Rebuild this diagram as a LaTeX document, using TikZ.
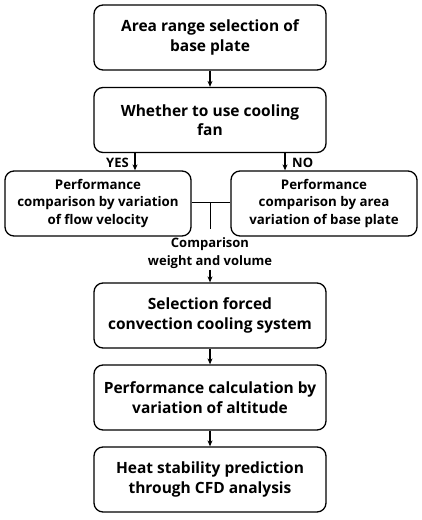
\documentclass[tikz,border=0pt]{standalone}
\usepackage{fontspec}
\setmainfont{Open Sans}
\usetikzlibrary{arrows.meta}
\begin{document}
\begin{tikzpicture}[x=1pt,y=-1pt,
  bigbox/.style={draw, line width=1.3pt, rounded corners=9pt, minimum width=232pt, minimum height=65pt, align=center, font=\bfseries\fontsize{15.5}{19.5}\selectfont, inner sep=0pt},
  sidebox/.style={draw, line width=1.3pt, rounded corners=9pt, minimum width=186pt, minimum height=65pt, align=center, font=\bfseries\fontsize{13.3}{17.5}\selectfont, inner sep=0pt},
  arr/.style={-{Stealth[length=6pt,width=5pt]}, line width=1.2pt},
  lbl/.style={font=\bfseries\fontsize{13}{18}\selectfont, inner sep=0pt, align=center}]
\useasboundingbox (0,0) rectangle (421,520);
\node[bigbox] (b1) at (210,37.5) {Area range selection of\\base plate};
\node[bigbox] (b2) at (210,120) {Whether to use cooling\\fan};
\node[sidebox] (l) at (98,203.5) {Performance\\comparison by variation\\of flow velocity};
\node[sidebox] (r) at (324,203.5) {Performance\\comparison by area\\variation of base plate};
\node[lbl] (cmp) at (210,253) {Comparison\\weight and volume};
\node[bigbox] (b5) at (210,315.5) {Selection forced\\convection cooling system};
\node[bigbox] (b6) at (210,397.5) {Performance calculation by\\variation of altitude};
\node[bigbox] (b7) at (210,479.5) {Heat stability prediction\\through CFD analysis};
\coordinate (mid) at (210,202);
\coordinate (jn) at (210,229);
\draw[arr] (b1) -- (b2);
\draw[arr] (b2.south -| l.north) ++(37,0) coordinate (ys) -- (ys |- l.north);
\draw[arr] (b2.south -| r.north) ++(-39,0) coordinate (ns) -- (ns |- r.north);
\node[lbl, anchor=east] (yes) at (129,163) {YES};
\node[lbl, anchor=west] (no) at (292,163) {NO};
\draw[line width=1pt] (l.east |- mid) -- (r.west |- mid);
\draw[line width=0.8pt] (mid) -- (jn);
\draw[arr] (cmp.south) ++(0,1) coordinate (cs) -- (b5.north);
\draw[arr] (b5) -- (b6);
\draw[arr] (b6) -- (b7);
\end{tikzpicture}
\end{document}
